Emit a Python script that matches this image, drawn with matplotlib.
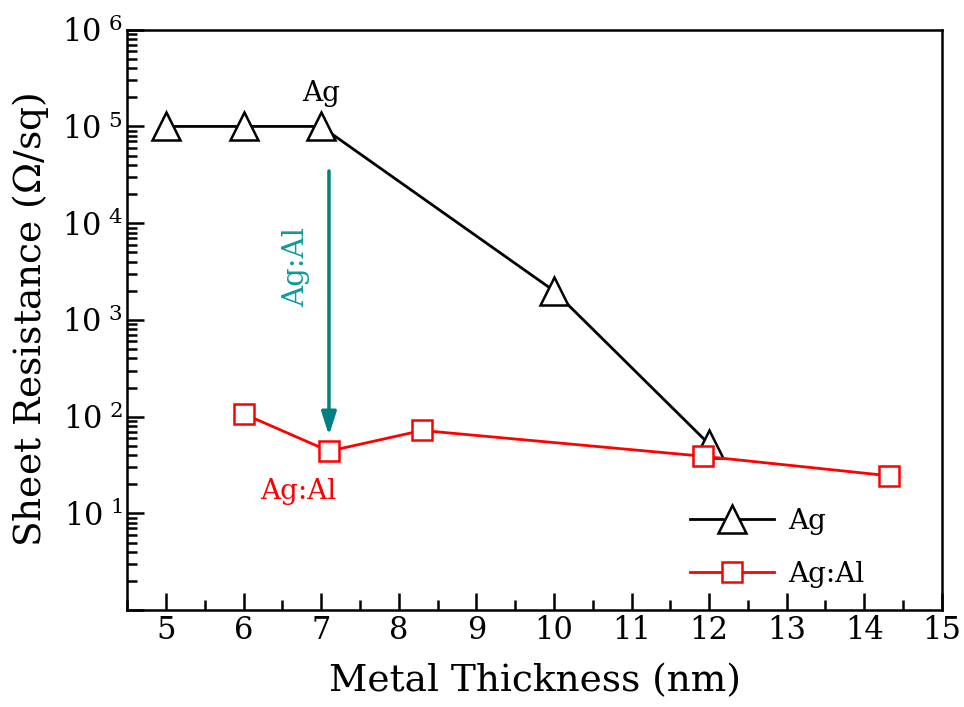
import math
import matplotlib
matplotlib.use("Agg")
import matplotlib.pyplot as plt
from matplotlib.ticker import LogLocator, MultipleLocator

plt.rcParams['font.family'] = ['DejaVu Serif']
plt.rcParams['mathtext.default'] = 'regular'

# Data
ag_x = [5, 6, 7, 10, 12]
ag_y = [1e5, 1e5, 1e5, 2.0e3, 52]
agal_x = [6, 7.1, 8.3, 11.92, 14.32]
agal_y = [107, 44, 72, 39, 24.5]

fig, ax = plt.subplots(figsize=(9.64, 7.07), dpi=100)
fig.subplots_adjust(left=0.132, right=0.977, top=0.958, bottom=0.137)

ax.plot(ag_x, ag_y, color='black', lw=2, marker='^', ms=20,
        mfc='white', mec='black', mew=1.8, label='Ag', zorder=3)
ax.plot(agal_x, agal_y, color='red', lw=2, marker='s', ms=15,
        mfc='white', mec='red', mew=1.8, label='Ag:Al', zorder=3)

ax.set_yscale('log')
ax.set_xlim(4.5, 15)
ax.set_ylim(1, 1e6)
ax.xaxis.set_major_locator(MultipleLocator(1))
ax.xaxis.set_minor_locator(MultipleLocator(0.5))
ax.yaxis.set_minor_locator(LogLocator(base=10, subs=range(2, 10), numticks=20))
yt = [10.0 ** k for k in range(0, 7)]
ax.set_yticks(yt)
ax.set_yticklabels(['' if t == 1 else r'$10^{\ %d}$' % round(math.log10(t)) for t in yt])

ax.tick_params(which='both', direction='in', top=False, right=False,
               labelsize=22, width=1.8)
ax.tick_params(which='major', length=12)
ax.tick_params(which='minor', length=7)
for s in ax.spines.values():
    s.set_linewidth(1.8)

ax.set_xlabel('Metal Thickness (nm)', fontsize=27, labelpad=12)
ax.set_ylabel(r'Sheet Resistance ($\Omega$/sq)', fontsize=27, labelpad=8)

# annotations
ax.annotate('', xy=(7.1, 60), xytext=(7.1, 3.7e4),
            arrowprops=dict(arrowstyle='-|>,head_length=1.4,head_width=0.45',
                            color='#008080', lw=2.5))
ax.text(6.68, 3.5e3, 'Ag:Al', color='#109a9a', fontsize=21,
        rotation=90, ha='center', va='center')
ax.text(7.0, 2.2e5, 'Ag', color='black', fontsize=20, ha='center', va='center')
ax.text(6.7, 17, 'Ag:Al', color='red', fontsize=20, ha='center', va='center')

ax.legend(loc='lower right', bbox_to_anchor=(0.935, -0.005), frameon=False,
          fontsize=20, handlelength=3, handletextpad=0.5, labelspacing=0.95)

fig.savefig('out.png', dpi=100)
